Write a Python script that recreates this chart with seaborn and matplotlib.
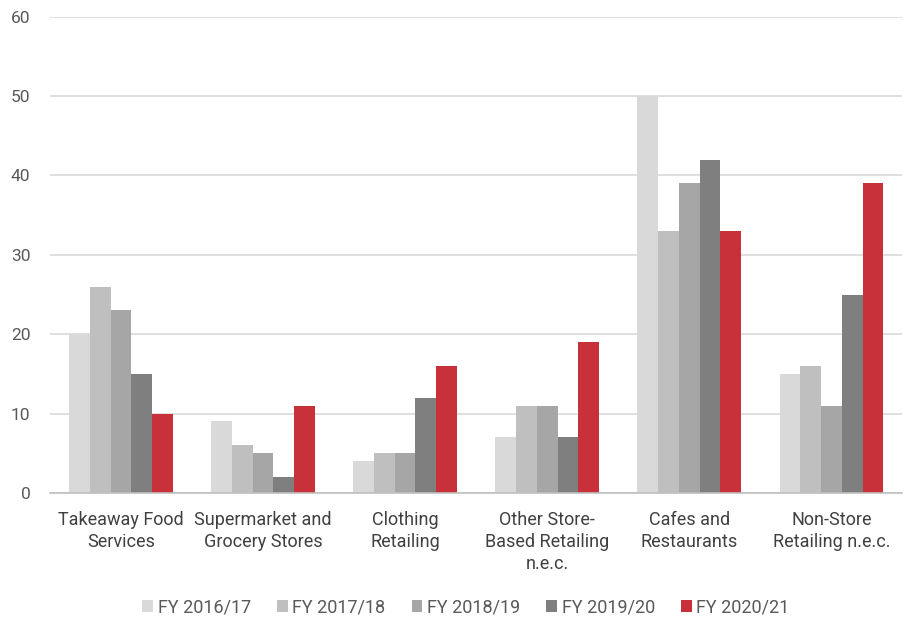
import matplotlib
matplotlib.use("Agg")
import matplotlib.pyplot as plt
from matplotlib.ticker import FixedLocator
import pandas as pd
import seaborn as sns

categories = ["Takeaway Food\nServices", "Supermarket and\nGrocery Stores", "Clothing\nRetailing",
              "Other Store-\nBased Retailing\nn.e.c.", "Cafes and\nRestaurants", "Non-Store\nRetailing n.e.c."]
years = ["FY 2016/17", "FY 2017/18", "FY 2018/19", "FY 2019/20", "FY 2020/21"]
fy1617 = [20, 9, 4, 7, 50, 15]
fy1718 = [26, 6, 5, 11, 33, 16]
fy1819 = [23, 5, 5, 11, 39, 11]
fy1920 = [15, 2, 12, 7, 42, 25]
fy2021 = [10, 11, 16, 19, 33, 39]
colors = ["#d9d9d9", "#bfbfbf", "#a6a6a6", "#7f7f7f", "#c8313a"]

rows = []
for yr, vals in zip(years, [fy1617, fy1718, fy1819, fy1920, fy2021]):
    for c, v in zip(categories, vals):
        rows.append({"cat": c, "year": yr, "value": v})
df = pd.DataFrame(rows)

sns.set_theme(style="white")
plt.rcParams["font.family"] = ["Roboto", "DejaVu Sans"]

fig = plt.figure(figsize=(9.07, 6.2), dpi=100)
ax = fig.add_axes([0.055, 0.205, 0.94, 0.768])
sns.barplot(data=df, x="cat", y="value", hue="year", order=categories, hue_order=years,
            palette=colors, width=0.73, saturation=1, gap=0, linewidth=0, edgecolor="none",
            ax=ax, zorder=3)

ax.set_ylim(0, 60)
ax.set_xlim(-0.5, len(categories) - 0.5)
ax.set_yticks(range(0, 61, 10))
ax.yaxis.grid(True, color="#d9d9d9", linewidth=1.2, zorder=0)
ax.set_axisbelow(True)
for s in ["top", "right", "left"]:
    ax.spines[s].set_visible(False)
ax.spines["bottom"].set_color("#bfbfbf")
ax.spines["bottom"].set_linewidth(1.2)
ax.spines["bottom"].set_zorder(4)
ax.set_xlabel("")
ax.set_ylabel("")
ax.tick_params(axis="y", length=0, labelsize=12.5, labelcolor="#595959", pad=14)
ax.tick_params(axis="x", which="major", length=0, labelsize=13, labelcolor="#404040", pad=13)
for lbl in ax.get_xticklabels():
    lbl.set_linespacing(1.3)
ax.xaxis.set_minor_locator(FixedLocator([i - 0.5 for i in range(len(categories) + 1)]))
ax.tick_params(axis="x", which="minor", length=7, width=1.2, color="#bfbfbf", direction="out")

leg = ax.legend(loc="center", bbox_to_anchor=(0.488, -0.24), ncol=5, frameon=False,
                fontsize=13, handlelength=0.6, handleheight=0.6, handletextpad=0.25,
                columnspacing=1.45)
for t in leg.get_texts():
    t.set_color("#595959")

fig.savefig("out.png", dpi=100)
